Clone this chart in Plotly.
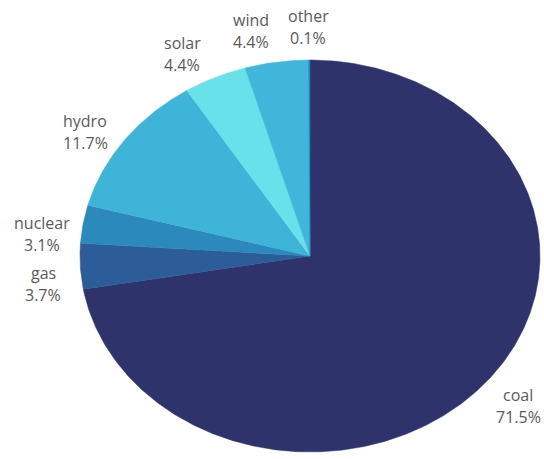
import numpy as np
import plotly.graph_objects as go

# Electricity generation mix (share of total, %)
sources = ["coal", "gas", "nuclear", "hydro", "solar", "wind", "other"]
shares = [71.5, 3.7, 3.1, 11.7, 4.4, 4.4, 0.1]
colors = ["#2f336c", "#2d5d98", "#2c89bb", "#3eb4d8", "#68e1ea", "#40b7da", "#2a84bb"]

# Canvas / ellipse geometry (pixel space)
W, H = 544, 459
cx, cy = 310, 256
rx, ry = 230, 196

# Label centres (pixel space), one per source
label_pos = [(518, 406), (43, 284), (42, 234), (85, 132), (182, 54), (251, 31), (308, 27)]
line_gap = 11

total = sum(shares)
fig = go.Figure()

start = 0.0
for name, val, col in zip(sources, shares, colors):
    frac = val / total
    t = np.linspace(start, start + frac, max(4, int(frac * 720) + 2)) * 2 * np.pi
    xs = np.concatenate([[cx], cx + rx * np.sin(t), [cx]])
    ys = np.concatenate([[cy], cy - ry * np.cos(t), [cy]])
    fig.add_trace(go.Scatter(
        x=xs, y=ys, mode="lines", fill="toself", fillcolor=col,
        line=dict(color=col, width=0.5), hoverinfo="skip", showlegend=False,
    ))
    start += frac

# Outside labels: name over percentage
font = dict(family="Open Sans", size=16, color="#5a5a5a")
for name, val, (lx, ly) in zip(sources, shares, label_pos):
    for txt, dy in ((name, -line_gap), (f"{val}%", line_gap)):
        fig.add_annotation(
            x=lx, y=ly + dy, text=txt, showarrow=False,
            xanchor="center", yanchor="middle", font=font,
        )

fig.update_layout(
    width=W, height=H,
    margin=dict(l=0, r=0, t=0, b=0),
    paper_bgcolor="white", plot_bgcolor="white",
    xaxis=dict(range=[0, W], visible=False, fixedrange=True),
    yaxis=dict(range=[H, 0], visible=False, fixedrange=True),
)

fig.write_html("out.html")
